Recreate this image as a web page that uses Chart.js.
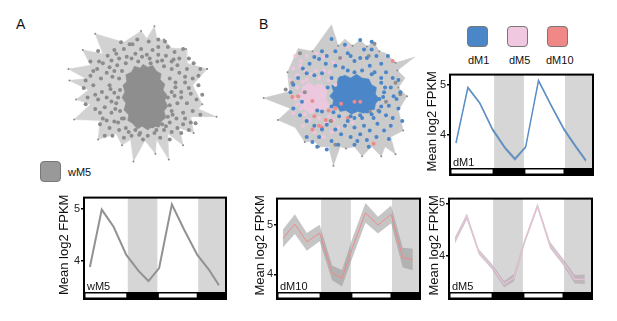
<!DOCTYPE html>
<html>
<head>
<meta charset="utf-8">
<script src="https://cdn.jsdelivr.net/npm/chart.js@4.4.1/dist/chart.umd.min.js"></script>
<style>
  body { margin: 0; background: #fff; width: 617px; height: 321px; overflow: hidden; position: relative;
         font-family: "Liberation Sans", Arial, sans-serif; color: #111; }
  canvas { position: absolute; }
  .txt { position: absolute; white-space: nowrap; line-height: 1; }
  .panel { font-size: 14px; }
  .key { position: absolute; width: 21px; height: 21px; border: 1px solid #777; border-radius: 4px; box-sizing: border-box; }
  .keylbl { font-size: 11px; }
</style>
</head>
<body>

<div class="txt panel" style="left:16px;top:17px;">A</div>
<div class="txt panel" style="left:259px;top:17px;">B</div>

<div class="key" style="left:40px;top:161px;background:#999;"></div>
<div class="txt keylbl" style="left:68px;top:167px;">wM5</div>

<div class="key" style="left:467px;top:26px;background:#4a86c8;"></div>
<div class="key" style="left:507px;top:26px;background:#f0c8e0;"></div>
<div class="key" style="left:547px;top:26px;background:#f08888;"></div>
<div class="txt keylbl" style="left:468px;top:55px;">dM1</div>
<div class="txt keylbl" style="left:509px;top:55px;">dM5</div>
<div class="txt keylbl" style="left:546px;top:55px;">dM10</div>

<canvas id="netA"></canvas>
<canvas id="netB"></canvas>
<canvas id="chartWM5"></canvas>
<canvas id="chartDM1"></canvas>
<canvas id="chartDM10"></canvas>
<canvas id="chartDM5"></canvas>

<script>
// time axis (hours), light/dark schedule
const sampleTimes = [2, 6, 10, 14.3, 18.5, 21.8, 25.4, 29.7, 33.9, 38.3, 42.2, 45.6];
const darkPeriods = [[14.8, 24.8], [38.6, 48]];
const lightPeriods = [[0, 14.8], [24.8, 38.6]];
const yTicks = [4, 5];

// mean log2 FPKM per module and spread of the shaded band
const wM5Mean = [3.88, 4.98, 4.65, 4.11, 3.80, 3.61, 3.86, 5.08, 4.59, 4.11, 3.83, 3.53];
const wM5Spread = [0.02, 0.02, 0.02, 0.02, 0.02, 0.02, 0.02, 0.02, 0.02, 0.02, 0.02, 0.02];
const dM1Mean = [3.84, 4.95, 4.64, 4.11, 3.74, 3.52, 3.76, 5.09, 4.60, 4.11, 3.77, 3.49];
const dM1Spread = [0.03, 0.03, 0.03, 0.04, 0.04, 0.04, 0.03, 0.03, 0.03, 0.04, 0.04, 0.04];
const dM10Mean = [4.73, 5.02, 4.66, 4.84, 4.03, 3.92, 4.55, 5.25, 5.00, 5.22, 4.34, 4.30];
const dM10Spread = [0.18, 0.20, 0.18, 0.17, 0.15, 0.17, 0.20, 0.20, 0.17, 0.18, 0.20, 0.22];
const dM5Mean = [4.30, 4.75, 4.08, 3.81, 3.47, 3.59, 4.28, 4.95, 4.21, 3.89, 3.56, 3.56];
const dM5Spread = [0.06, 0.06, 0.05, 0.05, 0.06, 0.07, 0.05, 0.05, 0.06, 0.06, 0.08, 0.09];

// network layouts (layout units, centre of graph at 0,0)
const hullA = [[67,-22],[52,-5],[62,15],[58,20],[77,28],[50,28],[53,45],[38,40],[42,58],[26,46],[27,73],[14,52],[13,67],[2,53],[-10,75],[-13,52],[-22,58],[-28,46],[-47,52],[-45,32],[-72,31],[-55,15],[-70,10],[-57,0],[-77,-10],[-60,-12],[-78,-22],[-55,-26],[-63,-42],[-42,-38],[-50,-59],[-20,-50],[-2,-62],[4,-54],[12,-67],[15,-52],[22,-53],[30,-44],[45,-43],[46,-28],[67,-22]];
const coreA = [[0,-27],[5,-24],[10,-26],[14,-20],[19,-17],[18,-11],[23,-6],[21,0],[25,5],[23,11],[26,17],[22,22],[24,29],[19,33],[17,39],[10,38],[5,42],[-1,38],[-6,41],[-11,35],[-16,32],[-15,26],[-20,21],[-18,14],[-22,8],[-19,2],[-21,-5],[-17,-9],[-18,-16],[-12,-19],[-9,-25],[-3,-23],[0,-27]];
const nodesA = [[-14,-48],[-11,-48],[-6,-53],[6,-51],[16,-53],[23,-51],[10,-42],[4,-37],[16,-37],[26,-45],[33,-40],[42,-43],[-20,-43],[-23,-50],[-30,-42],[-37,-36],[-47,-41],[-42,-28],[-33,-31],[-25,-33],[-17,-35],[-8,-38],[-1,-35],[7,-33],[15,-30],[24,-36],[32,-32],[38,-33],[48,-33],[53,-28],[60,-22],
  [-48,-22],[-55,-15],[-60,-10],[-52,-5],[-44,-12],[-38,-18],[-30,-20],[-25,-12],[-35,-5],[-43,2],[-50,5],[-58,8],[-38,8],[-30,3],[-28,14],[-40,18],[-50,20],[-33,24],[-24,22],
  [30,-22],[38,-18],[46,-22],[52,-12],[58,-5],[44,-8],[34,-8],[30,2],[40,2],[50,4],[56,10],[46,14],[36,14],[30,22],[42,24],[52,22],[60,26],
  [-42,30],[-30,33],[-22,30],[-15,44],[-25,42],[-35,40],[-45,36],[-12,48],[-3,45],[5,48],[12,45],[22,42],[28,34],[35,30],[42,36],[50,34],[30,44],[18,50],[40,45],[48,42],[-32,48],[-20,50],[-8,42],[10,38],[26,28],
  [-22,-20],[-18,-28],[-5,-30],[8,-28],[22,-25],[28,-12],[-24,0],[-26,8],[26,8],[28,16],[-20,30],[20,36],[-10,32],[-55,-30],[-62,-2],[-60,15],[58,-15],[62,5],[55,35],[-40,48],[0,52],[28,52],
  [-27,-26],[-32,-14],[-34,-1],[-33,12],[-29,20],[-26,34],[-18,40],[-4,47],[14,42],[24,38],[31,26],[33,6],[34,-3],[30,-30],[20,-31],[-12,-33],[-35,-24],[-46,-30],[-52,-20],[-47,10],[-45,24],[-38,32],[16,-45],[36,-26],[44,-14],[48,-2],[40,8],[44,30],[36,40],[-2,-43],[-28,-38]];

const hullB = [[67,-3],[58,12],[63,33],[50,40],[55,58],[44,50],[40,60],[30,50],[20,60],[12,50],[3,52],[-3,50],[-10,70],[-15,50],[-25,50],[-30,44],[-40,45],[-50,30],[-68,22],[-55,10],[-83,-1],[-56,-8],[-58,-28],[-47,-53],[-32,-50],[-12,-78],[-5,-56],[2,-63],[10,-56],[18,-62],[25,-55],[32,-60],[38,-50],[45,-48],[55,-38],[75,-44],[57,-30],[65,-22],[58,-12],[67,-3]];
const coreB = [[2,-25],[8,-22],[14,-26],[20,-22],[27,-21],[30,-15],[35,-12],[34,-5],[38,0],[34,5],[33,11],[26,12],[22,15],[15,13],[9,16],[3,12],[-3,13],[-6,8],[-11,7],[-10,1],[-14,-3],[-10,-8],[-12,-14],[-6,-16],[-5,-22],[2,-25]];
const pinkCoreB = [[-43,-12],[-36,-17],[-30,-13],[-22,-16],[-17,-8],[-18,0],[-14,7],[-20,12],[-27,10],[-33,16],[-40,11],[-46,4],[-43,-4],[-43,-12]];
const blueNodesB = [[2,-57],[18,-62],[30,-60],[-12,-63],[-22,-50],[-17,-45],[-8,-50],[5,-48],[12,-40],[18,-43],[25,-43],[35,-45],[47,-45],[40,-37],[28,-35],[12,-28],[0,-33],[-8,-35],[-18,-37],[-25,-42],[-35,-37],[-38,-27],[-30,-25],[-22,-27],[45,-28],[52,-22],[40,-17],[58,-20],[60,-7],[53,-3],[43,-7],[38,0],[48,7],[58,10],[62,23],[52,20],[45,17],[38,13],[32,20],[25,13],[18,17],[12,20],[5,23],[2,28],[12,30],[22,28],[28,33],[18,37],[8,40],[-2,37],[-8,32],[-17,27],[-22,32],[-25,40],[-32,45],[-38,40],[-30,28],[-38,23],[-45,17],[-52,10],[-55,-7],[-52,-15],[-47,-22],[-43,3],[-27,12],[-22,13],[-12,8],[25,43],[35,40],[43,33],[48,42],[27,50],[12,48],[-5,48],[-17,53],[-27,50],[30,-52],[8,-45],[-2,-22],[42,-2],[33,-28],
  [5,-30],[20,-30],[30,-26],[40,-22],[44,-12],[40,8],[30,16],[20,20],[8,18],[-4,18],[-10,14],[-16,-12],[-12,-22],[50,-12],[50,28],[36,26],[15,44],[-12,44],[-42,-32],[-30,-44],[22,-52],[56,0]];
const pinkNodesB = [[-45,-35],[-40,-30],[-48,-25],[-42,-18],[-35,-15],[-30,-10],[-38,-8],[-45,-5],[-50,0],[-40,0],[-32,-2],[-25,-5],[-20,0],[-28,5],[-36,8],[-44,10],[-30,12],[-22,10],[-15,18],[-25,20],[-35,22],[-18,25],[-10,22],[-5,30],[-12,35],[-20,40],[-30,35],[-8,-15],[-15,-20],[-25,-22],[-33,-26],[-20,-30],[-10,-38],[-2,-42],[5,-55],[-28,-48],[-50,-45],[-38,-45],[-55,-20],[-52,15],[-42,28],[-3,18],[10,25],
  [-48,-12],[-38,-20],[-26,-14],[-18,-10],[-48,6],[-40,16],[-28,-30],[-44,-40],[-52,-32],[-14,-28],[-20,-44]];
const salmonNodesB = [[-32,2],[-53,-2],[-8,10],[-2,5],[12,3],[18,3],[-18,22],[-12,23],[-32,32],[-47,-3],[52,-40],[32,47],[-15,12],[-25,28],[5,20],[-30,18],[-22,30]];
const grayNodesB = [[-3,-43],[27,-45],[55,-17],[45,3],[37,12],[28,13],[-13,23],[-8,48],[-40,-7],[-53,-17],[-45,-48],[33,-58],[60,-5],[-60,-10]];

Chart.defaults.font.family = '"Liberation Sans", Arial, sans-serif';

const xy = arr => arr.map(p => ({ x: p[0], y: p[1] }));
const tipsOf = hull => hull.filter((p, i) => i % 2 === 0);

function networkChart(id, left, top, datasets) {
  const cv = document.getElementById(id);
  cv.width = 180; cv.height = 170;
  cv.style.left = left + 'px'; cv.style.top = top + 'px';
  new Chart(cv, {
    type: 'scatter',
    data: { datasets },
    options: {
      responsive: false, animation: false, devicePixelRatio: 1,
      layout: { padding: 0 },
      plugins: { legend: { display: false }, tooltip: { enabled: false } },
      scales: {
        x: { type: 'linear', min: -90, max: 90, display: false },
        y: { type: 'linear', min: -85, max: 85, reverse: true, display: false }
      }
    }
  });
}

const shape = (pts, color, order) => ({
  type: 'line', data: xy(pts), fill: 'shape', backgroundColor: color,
  borderColor: color, borderWidth: 0.5, pointRadius: 0, tension: 0, order
});
const dots = (pts, color, r, order) => ({
  type: 'scatter', data: xy(pts), backgroundColor: color, borderWidth: 0, pointRadius: r, order
});

networkChart('netA', 53, 5, [
  shape(hullA, '#d2d2d2', 5),
  shape(coreA, '#8e8e8e', 4),
  dots(nodesA, '#8c8c8c', 2, 2),
  dots(tipsOf(hullA), '#8a8a8a', 1, 1)
]);

networkChart('netB', 253, 14, [
  shape(hullB, '#cbcbcb', 6),
  shape(pinkCoreB, 'rgba(240,200,224,0.85)', 5),
  shape(coreB, '#4a86c8', 4),
  dots(pinkNodesB, '#f1c4dd', 2, 3),
  dots(grayNodesB, '#8e8e8e', 2, 2),
  dots(salmonNodesB, '#ef8a8a', 2, 2),
  dots(blueNodesB, '#4a86c8', 2, 1),
  dots(tipsOf(hullB), '#8a8a8a', 1, 0)
]);

// day/night shading, light-dark bar, frame and module name
const dayNight = {
  id: 'dayNight',
  beforeDatasetsDraw(chart) {
    const { ctx, chartArea: a, scales: { x } } = chart;
    ctx.save();
    ctx.fillStyle = '#d6d6d6';
    darkPeriods.forEach(([s, e]) => {
      const x1 = x.getPixelForValue(s), x2 = x.getPixelForValue(e);
      ctx.fillRect(x1, a.top, x2 - x1, a.bottom - a.top);
    });
    ctx.restore();
  },
  afterDatasetsDraw(chart, args, opts) {
    const { ctx, chartArea: a, scales: { x } } = chart;
    const barH = 7;
    ctx.save();
    ctx.fillStyle = '#000';
    ctx.fillRect(a.left, a.bottom, a.right - a.left, barH);
    ctx.fillStyle = '#fff';
    lightPeriods.forEach(([s, e]) => {
      const x1 = x.getPixelForValue(s), x2 = x.getPixelForValue(e);
      ctx.fillRect(x1 + 1.5, a.bottom + 1.5, x2 - x1 - 3, barH - 3);
    });
    ctx.strokeStyle = '#000';
    ctx.lineWidth = 2;
    ctx.strokeRect(a.left, a.top, a.right - a.left, a.bottom + barH - a.top);
    ctx.fillStyle = '#111';
    ctx.font = '11px "Liberation Sans", Arial, sans-serif';
    ctx.textBaseline = 'alphabetic';
    ctx.fillText(opts.name, a.left + 3, a.bottom - 2);
    ctx.restore();
  }
};

function timeChart(id, box, axisW, name, mean, spread, yMin, yMax, lineColor, lineWidth, bandColor) {
  const cv = document.getElementById(id);
  const padT = 7, padB = 13, padR = 6;
  cv.width = box.w + axisW + padR;
  cv.height = box.h + padT + padB;
  cv.style.left = (box.x - axisW) + 'px';
  cv.style.top = (box.y - padT) + 'px';
  const lower = sampleTimes.map((t, i) => ({ x: t, y: mean[i] - spread[i] }));
  const upper = sampleTimes.map((t, i) => ({ x: t, y: mean[i] + spread[i] }));
  const line = sampleTimes.map((t, i) => ({ x: t, y: mean[i] }));
  new Chart(cv, {
    type: 'line',
    data: {
      datasets: [
        { data: line, borderColor: lineColor, borderWidth: lineWidth, pointRadius: 0, tension: 0, fill: false, order: 0 },
        { data: lower, borderWidth: 0, borderColor: 'rgba(0,0,0,0)', pointRadius: 0, tension: 0, fill: false, order: 2 },
        { data: upper, borderWidth: 0, borderColor: 'rgba(0,0,0,0)', pointRadius: 0, tension: 0, fill: '-1', backgroundColor: bandColor, order: 1 }
      ]
    },
    options: {
      responsive: false, animation: false, devicePixelRatio: 1,
      layout: { padding: { top: padT, bottom: padB, right: padR, left: 0 } },
      plugins: { legend: { display: false }, tooltip: { enabled: false }, dayNight: { name } },
      scales: {
        x: { type: 'linear', min: 0, max: 48, display: false },
        y: {
          min: yMin, max: yMax,
          afterFit(s) { s.width = axisW; },
          afterBuildTicks(s) { s.ticks = yTicks.map(v => ({ value: v })); },
          ticks: { color: '#222', font: { size: 11 }, padding: 1 },
          grid: { drawOnChartArea: false, tickLength: 3, color: '#000', lineWidth: 1.5 },
          border: { display: false },
          title: { display: true, text: 'Mean log2 FPKM', color: '#111', font: { size: 13 }, padding: { top: 4, bottom: 0 } }
        }
      }
    },
    plugins: [dayNight]
  });
}

timeChart('chartWM5', { x: 84, y: 197, w: 142, h: 95 }, 31, 'wM5', wM5Mean, wM5Spread, 3.40, 5.21, '#929292', 2, 'rgba(150,150,150,0.5)');
timeChart('chartDM1', { x: 450, y: 74, w: 143, h: 94 }, 29, 'dM1', dM1Mean, dM1Spread, 3.34, 5.21, '#5a8fc8', 1.5, 'rgba(140,150,165,0.6)');
timeChart('chartDM10', { x: 277, y: 198, w: 143, h: 94 }, 28, 'dM10', dM10Mean, dM10Spread, 3.64, 5.54, '#f08a8a', 1, 'rgba(150,150,150,0.55)');
timeChart('chartDM5', { x: 449, y: 198, w: 143, h: 94 }, 26, 'dM5', dM5Mean, dM5Spread, 3.32, 5.09, '#e6c2d6', 1.2, 'rgba(175,160,168,0.6)');
</script>
</body>
</html>
